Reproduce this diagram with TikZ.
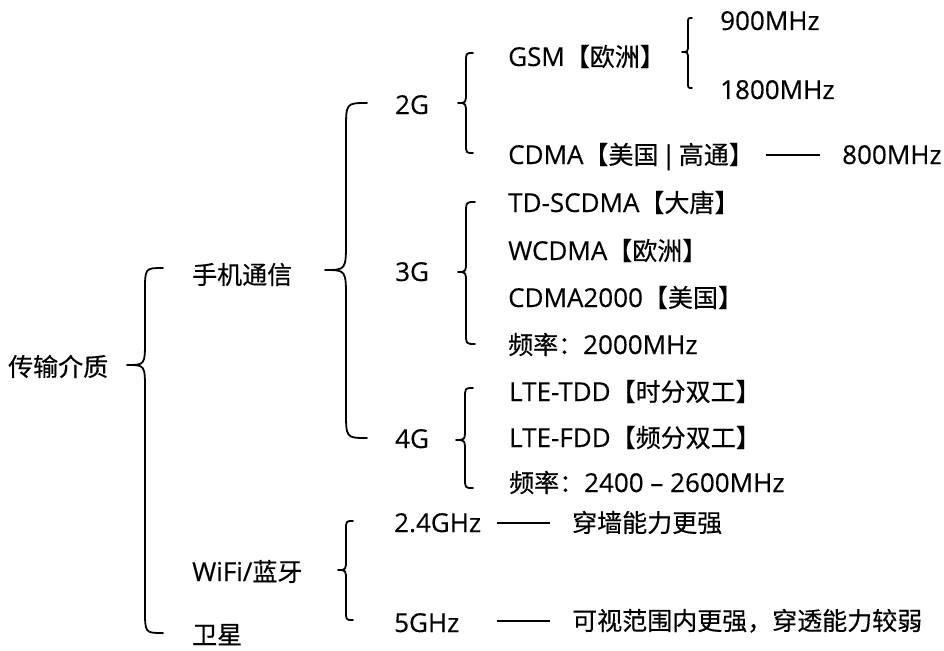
\documentclass[tikz,border=0pt]{standalone}
\usepackage{fontspec}
\setmainfont{Open Sans}[Scale=1.04,FakeBold=0.3]
\newfontfamily\zh{Noto Sans CJK SC}[FakeBold=0.4]
\newcommand\curlybr[6]{% xe xv xt yt ytip yb
  \pgfmathsetmacro\rr{1.3*(#1-#2)}%
  \pgfmathsetmacro\ss{1.4*(#2-#3)}%
  \draw[brc] (#1,#4) .. controls (#2,#4) .. (#2,#4+\rr)
    -- (#2,#5-\ss) .. controls (#2,#5) .. (#3,#5)
    .. controls (#2,#5) .. (#2,#5+\ss)
    -- (#2,#6-\rr) .. controls (#2,#6) .. (#1,#6);%
}
\tikzset{
  lbl/.style={anchor=west, inner sep=0pt, text height=18pt, text depth=0pt,
    font=\fontsize{25}{30}\selectfont},
  brc/.style={line width=1.8pt, line cap=round, line join=round},
  dashline/.style={line width=1.6pt},
}
\begin{document}
\begin{tikzpicture}[x=1pt,y=-1pt]
\useasboundingbox (0,0) rectangle (944,650);
% level 0/1
\node[lbl] (root) at (8,367) {\zh 传输介质};
\node[lbl] (mobile) at (192,275) {\zh 手机通信};
\node[lbl] (wifi) at (192,572) {WiFi/{\zh 蓝牙}};
\node[lbl] (sat) at (192,635) {\zh 卫星};
% level 2
\node[lbl] (g2) at (395,105) {2G};
\node[lbl] (g3) at (395,272) {3G};
\node[lbl] (g4) at (395,439) {4G};
\node[lbl] (w24) at (394,523) {2.4GHz};
\node[lbl] (w5) at (394,623) {5GHz};
% 2G
\node[lbl] (gsm) at (508,57) {GSM{\zh 【欧洲】}};
\node[lbl] (cdma) at (508,155) {CDMA{\zh 【美国}\hspace{3pt}|\hspace{3pt}{\zh 高通】}};
\node[lbl] (f900) at (720,21) {900MHz};
\node[lbl] (f1800) at (720,90) {1800MHz};
\node[lbl] (f800) at (842,155) {800MHz};
% 3G
\node[lbl] (td) at (508,203) {TD-SCDMA{\zh 【大唐】}};
\node[lbl] (wc) at (508,251) {WCDMA{\zh 【欧洲】}};
\node[lbl] (c2k) at (508,298) {CDMA2000{\zh 【美国】}};
\node[lbl] (f3g) at (508,345) {{\zh 频率：}2000MHz};
% 4G
\node[lbl] (tdd) at (509,392) {LTE-TDD{\zh 【时分双工】}};
\node[lbl] (fdd) at (509,438) {LTE-FDD{\zh 【频分双工】}};
\node[lbl] (f4g) at (509,483) {{\zh 频率：}2400 – 2600MHz};
% WiFi
\node[lbl] (d24) at (572,523) {\zh 穿墙能力更强};
\node[lbl] (d5) at (572,621) {\zh 可视范围内更强，穿透能力较弱};
% connectors
\draw[dashline] ([xshift=12pt]cdma.east) -- ([xshift=-22pt]f800.west);
\coordinate (l24) at ([xshift=16pt]w24.east);
\draw[dashline] (l24) -- ([xshift=-22pt]d24.west);
\draw[dashline] (l24 |- d5.west) -- ([xshift=-22pt]d5.west);
% braces
\curlybr{163}{145}{127}{268}{365}{633}
\curlybr{367}{346}{325}{103}{270}{438}
\curlybr{473}{466}{458}{53}{103}{153}
\curlybr{692}{688}{682}{18}{52}{88}
\curlybr{475}{466}{458}{202}{272}{344}
\curlybr{473}{465}{456}{388}{440}{488}
\curlybr{353}{346}{338}{521}{570}{620}
\end{tikzpicture}
\end{document}
